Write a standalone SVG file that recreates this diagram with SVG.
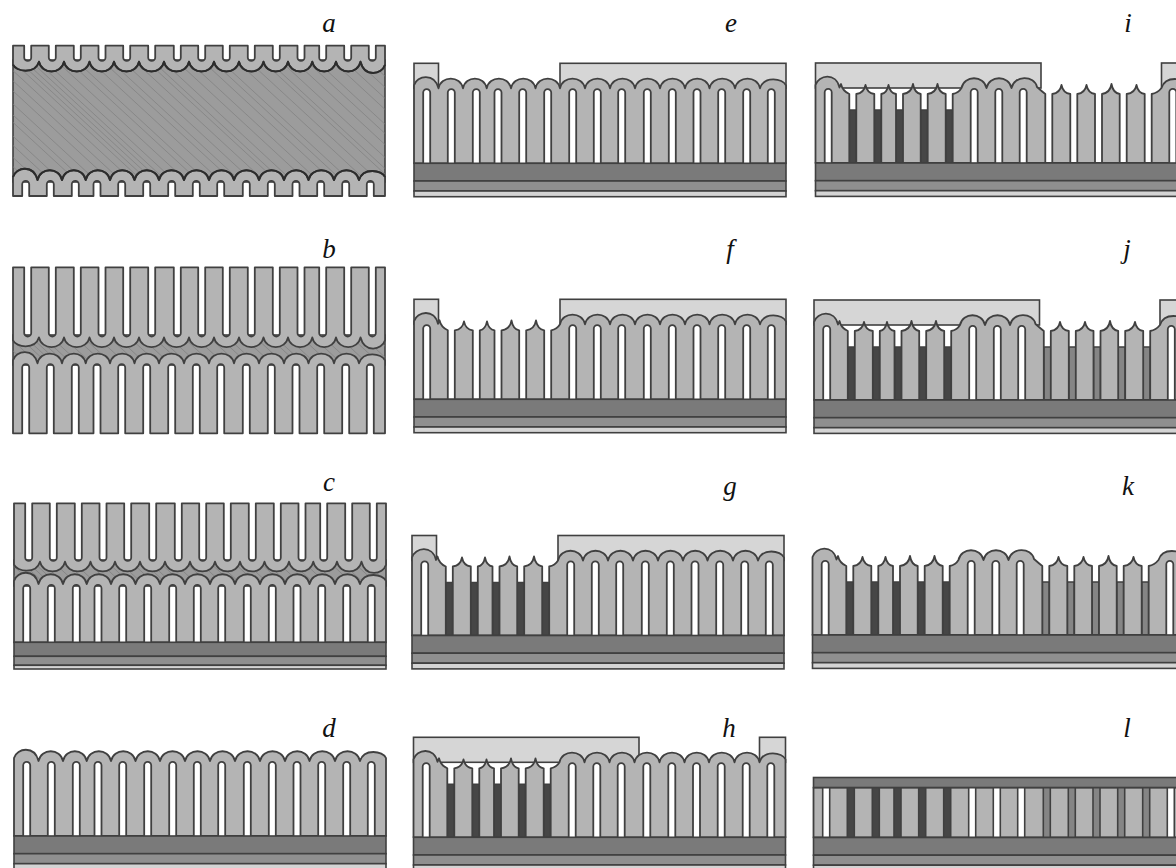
<svg xmlns="http://www.w3.org/2000/svg" width="1176" height="868" viewBox="0 0 1176 868">
<style>
.p{fill:#b4b4b4;stroke:#404040;stroke-width:1.8;stroke-linejoin:round}
.m{fill:#d6d6d6;stroke:#404040;stroke-width:1.6}
.d1{fill:#7a7a7a;stroke:#404040;stroke-width:1.6}
.d2{fill:#8f8f8f;stroke:#404040;stroke-width:1.6}
.d3{fill:#d4d4d4;stroke:#404040;stroke-width:1.6}
.bd{fill:#464646;stroke:#404040;stroke-width:1.6}
.bm{fill:#858585;stroke:#404040;stroke-width:1.6}
.w{fill:#fff;stroke:#404040;stroke-width:1.6}
.bulk{fill:#9c9c9c;stroke:#404040;stroke-width:1.6}
.h{fill:none;stroke:#808080;stroke-width:.7}
.cap{fill:none;stroke:#2c2c2c;stroke-width:1.9;stroke-linejoin:round}
text{font-family:"Liberation Serif",serif;font-style:italic;font-size:27px;fill:#111;text-anchor:middle}
</style>
<defs>
<clipPath id="ca"><rect x="13" y="60" width="372" height="122"/></clipPath>
<clipPath id="cb"><rect x="13" y="335" width="372" height="30"/></clipPath>
<clipPath id="cc"><rect x="14" y="560" width="372" height="26"/></clipPath>
<path id="hatch" class="h" d="M-120 55l130 120M-108 55l130 120M-98 55l130 120M-85 55l130 120M-75 55l130 120M-60 55l130 120M-52 55l130 120M-40 55l130 120M-26 55l130 120M-15 55l130 120M-4 55l130 120M6 55l130 120M12 55l130 120M18 55l130 120M24 55l130 120M30 55l130 120M38 55l130 120M50 55l130 120M62 55l130 120M70 55l130 120M84 55l130 120M96 55l130 120M104 55l130 120M116 55l130 120M128 55l130 120M140 55l130 120M146 55l130 120M156 55l130 120M170 55l130 120M182 55l130 120M196 55l130 120M206 55l130 120M214 55l130 120M230 55l130 120M242 55l130 120M256 55l130 120M262 55l130 120M274 55l130 120M288 55l130 120M300 55l130 120M310 55l130 120M326 55l130 120M338 55l130 120M350 55l130 120M362 55l130 120M376 55l130 120"/>
<path id="scal" class="cap" d="M0-3c3-10 20.5-13 24.5 3c2.5-13 22-13 24.5 0c2.4-13 21.3-13 23.7 0c2.4-13 21.9-13 24.3 0c2.5-13 22-13 24.5 0c2.5-13 22-13 24.5 0c2.5-13 22.5-13 25 0c2.5-13 22.5-13 25 0c2.5-13 22.5-13 25 0c2.5-13 22.5-13 25 0c2.5-13 22.5-13 25 0c2.5-13 22-13 24.5 0c2.5-13 23-13 25.5 0c2.5-13 22.5-13 25 0c4-13 23-10 26-3"/>
<path id="comb16" class="p" d="M0 16V-3c3-10 20.5-13 24.5 3c2.5-13 22-13 24.5 0c2.4-13 21.3-13 23.7 0c2.4-13 21.9-13 24.3 0c2.5-13 22-13 24.5 0c2.5-13 22-13 24.5 0c2.5-13 22.5-13 25 0c2.5-13 22.5-13 25 0c2.5-13 22.5-13 25 0c2.5-13 22.5-13 25 0c2.5-13 22.5-13 25 0c2.5-13 22-13 24.5 0c2.5-13 23-13 25.5 0c2.5-13 22.5-13 25 0c4-13 23-10 26-3V16H360.8V4.3A3.5 3.5 0 0 0 353.8 4.3V16H336.2V4.3A3.5 3.5 0 0 0 329.2 4.3V16H311.2V4.3A3.5 3.5 0 0 0 304.2 4.3V16H286.5V4.3A3.5 3.5 0 0 0 279.5 4.3V16H261.8V4.3A3.5 3.5 0 0 0 254.8 4.3V16H236.8V4.3A3.5 3.5 0 0 0 229.8 4.3V16H211.2V4.3A3.5 3.5 0 0 0 204.2 4.3V16H186.8V4.3A3.5 3.5 0 0 0 179.8 4.3V16H162.2V4.3A3.5 3.5 0 0 0 155.2 4.3V16H137.2V4.3A3.5 3.5 0 0 0 130.2 4.3V16H112.2V4.3A3.5 3.5 0 0 0 105.2 4.3V16H87.5V4.3A3.5 3.5 0 0 0 80.5 4.3V16H65.8V4.3A3.5 3.5 0 0 0 58.8 4.3V16H40.8V4.3A3.5 3.5 0 0 0 33.8 4.3V16H16.2V4.3A3.5 3.5 0 0 0 9.2 4.3V16Z"/>
<path id="comb70" class="p" d="M0 70V-3c3-10 20.5-13 24.5 3c2.5-13 22-13 24.5 0c2.4-13 21.3-13 23.7 0c2.4-13 21.9-13 24.3 0c2.5-13 22-13 24.5 0c2.5-13 22-13 24.5 0c2.5-13 22.5-13 25 0c2.5-13 22.5-13 25 0c2.5-13 22.5-13 25 0c2.5-13 22.5-13 25 0c2.5-13 22.5-13 25 0c2.5-13 22-13 24.5 0c2.5-13 23-13 25.5 0c2.5-13 22.5-13 25 0c4-13 23-10 26-3V70H360.8V4.3A3.5 3.5 0 0 0 353.8 4.3V70H336.2V4.3A3.5 3.5 0 0 0 329.2 4.3V70H311.2V4.3A3.5 3.5 0 0 0 304.2 4.3V70H286.5V4.3A3.5 3.5 0 0 0 279.5 4.3V70H261.8V4.3A3.5 3.5 0 0 0 254.8 4.3V70H236.8V4.3A3.5 3.5 0 0 0 229.8 4.3V70H211.2V4.3A3.5 3.5 0 0 0 204.2 4.3V70H186.8V4.3A3.5 3.5 0 0 0 179.8 4.3V70H162.2V4.3A3.5 3.5 0 0 0 155.2 4.3V70H137.2V4.3A3.5 3.5 0 0 0 130.2 4.3V70H112.2V4.3A3.5 3.5 0 0 0 105.2 4.3V70H87.5V4.3A3.5 3.5 0 0 0 80.5 4.3V70H65.8V4.3A3.5 3.5 0 0 0 58.8 4.3V70H40.8V4.3A3.5 3.5 0 0 0 33.8 4.3V70H16.2V4.3A3.5 3.5 0 0 0 9.2 4.3V70Z"/>
<path id="comb58" class="p" d="M0 58.4V-3c3-10 20.5-13 24.5 3c2.5-13 22-13 24.5 0c2.4-13 21.3-13 23.7 0c2.4-13 21.9-13 24.3 0c2.5-13 22-13 24.5 0c2.5-13 22-13 24.5 0c2.5-13 22.5-13 25 0c2.5-13 22.5-13 25 0c2.5-13 22.5-13 25 0c2.5-13 22.5-13 25 0c2.5-13 22.5-13 25 0c2.5-13 22-13 24.5 0c2.5-13 23-13 25.5 0c2.5-13 22.5-13 25 0c4-13 23-10 26-3V58.4H360.8V4.3A3.5 3.5 0 0 0 353.8 4.3V58.4H336.2V4.3A3.5 3.5 0 0 0 329.2 4.3V58.4H311.2V4.3A3.5 3.5 0 0 0 304.2 4.3V58.4H286.5V4.3A3.5 3.5 0 0 0 279.5 4.3V58.4H261.8V4.3A3.5 3.5 0 0 0 254.8 4.3V58.4H236.8V4.3A3.5 3.5 0 0 0 229.8 4.3V58.4H211.2V4.3A3.5 3.5 0 0 0 204.2 4.3V58.4H186.8V4.3A3.5 3.5 0 0 0 179.8 4.3V58.4H162.2V4.3A3.5 3.5 0 0 0 155.2 4.3V58.4H137.2V4.3A3.5 3.5 0 0 0 130.2 4.3V58.4H112.2V4.3A3.5 3.5 0 0 0 105.2 4.3V58.4H87.5V4.3A3.5 3.5 0 0 0 80.5 4.3V58.4H65.8V4.3A3.5 3.5 0 0 0 58.8 4.3V58.4H40.8V4.3A3.5 3.5 0 0 0 33.8 4.3V58.4H16.2V4.3A3.5 3.5 0 0 0 9.2 4.3V58.4Z"/>
<path id="comb75" class="p" d="M0 75V-3c3-10 20.5-13 24.5 3c2.5-13 22-13 24.5 0c2.4-13 21.3-13 23.7 0c2.4-13 21.9-13 24.3 0c2.5-13 22-13 24.5 0c2.5-13 22-13 24.5 0c2.5-13 22.5-13 25 0c2.5-13 22.5-13 25 0c2.5-13 22.5-13 25 0c2.5-13 22.5-13 25 0c2.5-13 22.5-13 25 0c2.5-13 22-13 24.5 0c2.5-13 23-13 25.5 0c2.5-13 22.5-13 25 0c4-13 23-10 26-3V75H360.8V4.3A3.5 3.5 0 0 0 353.8 4.3V75H336.2V4.3A3.5 3.5 0 0 0 329.2 4.3V75H311.2V4.3A3.5 3.5 0 0 0 304.2 4.3V75H286.5V4.3A3.5 3.5 0 0 0 279.5 4.3V75H261.8V4.3A3.5 3.5 0 0 0 254.8 4.3V75H236.8V4.3A3.5 3.5 0 0 0 229.8 4.3V75H211.2V4.3A3.5 3.5 0 0 0 204.2 4.3V75H186.8V4.3A3.5 3.5 0 0 0 179.8 4.3V75H162.2V4.3A3.5 3.5 0 0 0 155.2 4.3V75H137.2V4.3A3.5 3.5 0 0 0 130.2 4.3V75H112.2V4.3A3.5 3.5 0 0 0 105.2 4.3V75H87.5V4.3A3.5 3.5 0 0 0 80.5 4.3V75H65.8V4.3A3.5 3.5 0 0 0 58.8 4.3V75H40.8V4.3A3.5 3.5 0 0 0 33.8 4.3V75H16.2V4.3A3.5 3.5 0 0 0 9.2 4.3V75Z"/>
<path id="typeA" class="p" d="M0 0V-78c3-10 20.5-13 24 2.5L25.5-79Q27-72 33.8-69V0H40.8V-69Q48.5-70 50-78Q51.5-70 58.8-69V0H65.8V-69Q71.5-70 73-78Q74.5-70 80.5-69V0H87.5V-69Q96-70 97.5-79Q99-70 105.2-69V0H112.2V-69Q120.5-70 122-79Q123.5-70 130.2-69V0H137.2V-69Q143-70 146-75c2.5-13 22.5-13 25 0c2.5-13 22.5-13 25 0c2.5-13 22.5-13 25 0c2.5-13 22.5-13 25 0c2.5-13 22.5-13 25 0c2.5-13 22-13 24.5 0c2.5-13 23-13 25.5 0c2.5-13 22.5-13 25 0c4-13 23-10 26-3V0H360.8V-70.7A3.5 3.5 0 0 0 353.8-70.7V0H336.2V-70.7A3.5 3.5 0 0 0 329.2-70.7V0H311.2V-70.7A3.5 3.5 0 0 0 304.2-70.7V0H286.5V-70.7A3.5 3.5 0 0 0 279.5-70.7V0H261.8V-70.7A3.5 3.5 0 0 0 254.8-70.7V0H236.8V-70.7A3.5 3.5 0 0 0 229.8-70.7V0H211.2V-70.7A3.5 3.5 0 0 0 204.2-70.7V0H186.8V-70.7A3.5 3.5 0 0 0 179.8-70.7V0H162.2V-70.7A3.5 3.5 0 0 0 155.2-70.7V0H16.2V-70.7A3.5 3.5 0 0 0 9.2-70.7V0Z"/>
<path id="typeB" class="p" d="M0 0V-78c3-10 20.5-13 24 2.5L25.5-79Q27-72 33.8-69V0H40.8V-69Q48.5-70 50-78Q51.5-70 58.8-69V0H65.8V-69Q71.5-70 73-78Q74.5-70 80.5-69V0H87.5V-69Q96-70 97.5-79Q99-70 105.2-69V0H112.2V-69Q120.5-70 122-79Q123.5-70 130.2-69V0H137.2V-69Q143-70 146-75c2.5-13 22.5-13 25 0c2.5-13 22.5-13 25 0c2.5-13 23-13 25.5-1Q226-72 229.8-69V0H236.8V-69Q244.5-70 246-78Q247.5-70 254.8-69V0H261.8V-69Q269.5-70 271-78Q272.5-70 279.5-69V0H286.5V-69Q294.5-70 296-79Q297.5-70 304.2-69V0H311.2V-69Q319.5-70 321-78Q322.5-70 329.2-69V0H336.2V-69Q342-70 346-75c4-13 23-10 26-3V0H360.8V-70.7A3.5 3.5 0 0 0 353.8-70.7V0H211.2V-70.7A3.5 3.5 0 0 0 204.2-70.7V0H186.8V-70.7A3.5 3.5 0 0 0 179.8-70.7V0H162.2V-70.7A3.5 3.5 0 0 0 155.2-70.7V0H16.2V-70.7A3.5 3.5 0 0 0 9.2-70.7V0Z"/>
<path id="blocksD" class="bd" d="M33.8 0V-53H40.8V0ZM58.8 0V-53H65.8V0ZM80.5 0V-53H87.5V0ZM105.2 0V-53H112.2V0ZM130.2 0V-53H137.2V0Z"/>
<path id="blocksM" class="bm" d="M229.8 0V-53H236.8V0ZM254.8 0V-53H261.8V0ZM279.5 0V-53H286.5V0ZM304.2 0V-53H311.2V0ZM329.2 0V-53H336.2V0Z"/>
<g id="sub"><rect class="d1" width="372" height="17.7"/><rect class="d2" y="17.7" width="372" height="10"/><rect class="d3" y="27.7" width="372" height="5.7"/></g>
<g id="maskSmallBig"><rect class="m" y="-100" width="24.5" height="25"/><rect class="m" x="146" y="-100" width="226" height="25"/></g>
<g id="maskWide"><rect class="m" y="-100" width="225.5" height="25"/><rect class="m" x="346" y="-100" width="26" height="25"/></g>
</defs>

<g id="panel-a">
<rect class="bulk" x="13" y="60" width="372" height="122"/>
<g clip-path="url(#ca)"><use href="#hatch"/></g>
<use href="#comb16" transform="translate(385,61.7) rotate(180)"/>
<use href="#comb16" transform="translate(13,180)"/>
<use href="#scal" transform="translate(385,61.7) rotate(180)"/>
<use href="#scal" transform="translate(13,180)"/>
</g>
<g id="panel-b">
<rect class="bulk" x="13" y="335" width="372" height="30"/>
<g clip-path="url(#cb)"><use href="#hatch" transform="translate(0,270)"/></g>
<use href="#comb70" transform="translate(385,337.3) rotate(180)"/>
<use href="#comb70" transform="translate(13,363.3)"/>
</g>
<g id="panel-c">
<rect class="bulk" x="14" y="560" width="372" height="26"/>
<g clip-path="url(#cc)"><use href="#hatch" transform="translate(1,505)"/></g>
<use href="#comb58" transform="translate(386,561.7) rotate(180)"/>
<use href="#comb58" transform="translate(14,584)"/>
<rect class="d1" x="14" y="642.3" width="372" height="14"/>
<rect class="d2" x="14" y="656.3" width="372" height="9"/>
<rect class="d3" x="14" y="665.3" width="372" height="3.7"/>
</g>
<g id="panel-d" transform="translate(14,836)"><use href="#comb75" y="-75"/><use href="#sub"/></g>
<g id="panel-e" transform="translate(414,163.3)"><use href="#maskSmallBig"/><use href="#comb75" y="-75"/><use href="#sub"/></g>
<g id="panel-f" transform="translate(414,399.3)"><use href="#maskSmallBig"/><use href="#typeA"/><use href="#sub"/></g>
<g id="panel-g" transform="translate(412,635.5)"><use href="#maskSmallBig"/><use href="#blocksD"/><use href="#typeA"/><use href="#sub"/></g>
<g id="panel-h" transform="translate(413.5,837.3)"><use href="#maskWide"/><use href="#blocksD"/><use href="#typeA"/><use href="#sub"/></g>
<g id="panel-i" transform="translate(815.5,163)"><use href="#maskWide"/><use href="#blocksD"/><use href="#typeB"/><use href="#sub"/></g>
<g id="panel-j" transform="translate(814,400)"><use href="#maskWide"/><use href="#blocksD"/><use href="#blocksM"/><use href="#typeB"/><use href="#sub"/></g>
<g id="panel-k" transform="translate(812.5,635)"><use href="#blocksD"/><use href="#blocksM"/><use href="#typeB"/><use href="#sub"/></g>
<g id="panel-l" transform="translate(813.5,837.5)">
<rect class="p" y="-50" width="372" height="50"/>
<rect class="w" x="9.2" y="-50" width="7" height="50"/>
<rect class="bd" x="33.8" y="-50" width="7" height="50"/>
<rect class="bd" x="58.8" y="-50" width="7" height="50"/>
<rect class="bd" x="80.5" y="-50" width="7" height="50"/>
<rect class="bd" x="105.2" y="-50" width="7" height="50"/>
<rect class="bd" x="130.2" y="-50" width="7" height="50"/>
<rect class="w" x="155.2" y="-50" width="7" height="50"/>
<rect class="w" x="179.8" y="-50" width="7" height="50"/>
<rect class="w" x="204.2" y="-50" width="7" height="50"/>
<rect class="bm" x="229.8" y="-50" width="7" height="50"/>
<rect class="bm" x="254.8" y="-50" width="7" height="50"/>
<rect class="bm" x="279.5" y="-50" width="7" height="50"/>
<rect class="bm" x="304.2" y="-50" width="7" height="50"/>
<rect class="bm" x="329.2" y="-50" width="7" height="50"/>
<rect class="w" x="353.8" y="-50" width="7" height="50"/>
<rect class="d1" y="-60" width="372" height="10"/>
<use href="#sub"/>
</g>
<g id="labels">
<text x="329" y="32">a</text><text x="329" y="258">b</text><text x="329" y="491">c</text><text x="329" y="737">d</text>
<text x="731" y="32">e</text><text x="730" y="258">f</text><text x="730" y="495">g</text><text x="729" y="737">h</text>
<text x="1128" y="32">i</text><text x="1127" y="258">j</text><text x="1128" y="495">k</text><text x="1127" y="737">l</text>
</g>
</svg>
